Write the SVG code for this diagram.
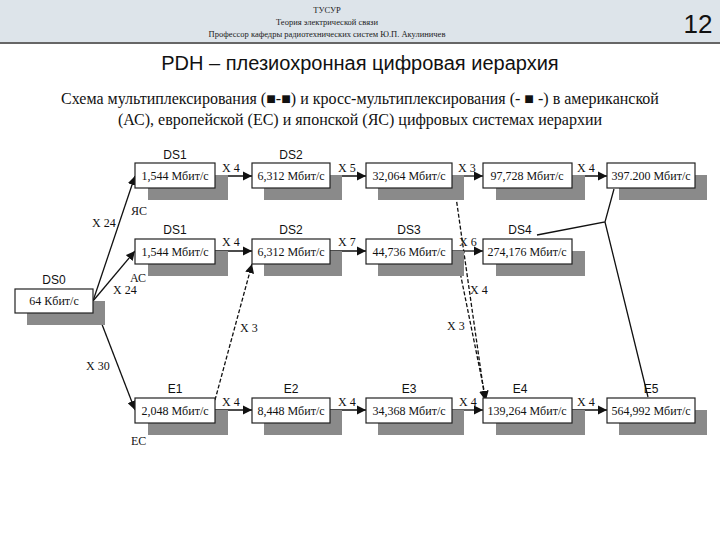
<svg xmlns="http://www.w3.org/2000/svg" width="720" height="540" viewBox="0 0 720 540">
<defs>
<marker id="ar" viewBox="0 0 10 10" refX="10" refY="5" markerWidth="7" markerHeight="7" orient="auto"><path d="M0,0L10,5L0,10z" fill="#111"/></marker>
<style>
.box{fill:#fff;stroke:#222;stroke-width:1.2}
.sh{fill:#8a8a8a}
.v{font-family:"Liberation Serif",serif;font-size:12px;fill:#111;text-anchor:middle}
.n{font-family:"Liberation Sans",sans-serif;font-size:12px;fill:#111;text-anchor:middle}
.x{font-family:"Liberation Serif",serif;font-size:12px;fill:#111}
.c{stroke:#111;stroke-width:1.3;fill:none}
.d{stroke:#111;stroke-width:1.3;fill:none;stroke-dasharray:4 2}
</style>
</defs>
<rect width="720" height="540" fill="#fff"/>
<rect width="720" height="42" fill="#dde4ea"/>
<line x1="0" y1="43" x2="720" y2="43" stroke="#333" stroke-width="1.5"/>
<g font-family="Liberation Serif,serif" font-size="8.5" text-anchor="middle" fill="#222">
<text x="327" y="13">ТУСУР</text>
<text x="327" y="25">Теория электрической связи</text>
<text x="327" y="37">Профессор кафедры радиотехнических систем Ю.П. Акулиничев</text>
</g>
<text x="698" y="33" font-family="Liberation Sans,sans-serif" font-size="26" text-anchor="middle" fill="#111">12</text>
<text x="360" y="70" font-family="Liberation Sans,sans-serif" font-size="20" text-anchor="middle" fill="#111">PDH – плезиохронная цифровая иерархия</text>
<text x="360" y="104" font-family="Liberation Serif,serif" font-size="16" text-anchor="middle" fill="#111">Схема мультиплексирования (■-■) и кросс-мультиплексирования (- ■ -) в американской</text>
<text x="360" y="125" font-family="Liberation Serif,serif" font-size="16" text-anchor="middle" fill="#111">(АС), европейской (ЕС) и японской (ЯС) цифровых системах иерархии</text>

<g id="connectors">
<path class="c" d="M93,301L135,176" marker-end="url(#ar)"/>
<path class="c" d="M93,301L135,251" marker-end="url(#ar)"/>
<path class="c" d="M93,301L135,410" marker-end="url(#ar)"/>
<path class="c" d="M215,176H252" marker-end="url(#ar)"/>
<path class="c" d="M330,176H366" marker-end="url(#ar)"/>
<path class="c" d="M452,176H483" marker-end="url(#ar)"/>
<path class="c" d="M572,176H607" marker-end="url(#ar)"/>
<path class="c" d="M215,251H252" marker-end="url(#ar)"/>
<path class="c" d="M330,251H366" marker-end="url(#ar)"/>
<path class="c" d="M452,251H483" marker-end="url(#ar)"/>
<path class="c" d="M215,410H252" marker-end="url(#ar)"/>
<path class="c" d="M330,410H366" marker-end="url(#ar)"/>
<path class="c" d="M452,410H483" marker-end="url(#ar)"/>
<path class="c" d="M572,410H607" marker-end="url(#ar)"/>
<path class="d" d="M215,400L252,264" marker-end="url(#ar)"/>
<path class="d" d="M455,190L485,400" marker-end="url(#ar)"/>
<path class="d" d="M458,262L486,400" marker-end="url(#ar)"/>
<path class="c" d="M537,235L605,222L614,189M605,222L648,397"/>
<g class="x">
<text x="92" y="227">X 24</text><text x="113" y="294">X 24</text><text x="86" y="370">X 30</text>
<text x="131" y="215">ЯС</text><text x="130" y="282">АС</text><text x="131" y="445">ЕС</text>
<text x="222" y="172">X 4</text><text x="338" y="172">X 5</text><text x="458" y="172">X 3</text><text x="577" y="172">X 4</text>
<text x="222" y="246">X 4</text><text x="338" y="246">X 7</text><text x="459" y="246">X 6</text>
<text x="222" y="406">X 4</text><text x="338" y="406">X 4</text><text x="459" y="406">X 4</text><text x="577" y="406">X 4</text>
<text x="240" y="332">X 3</text><text x="447" y="330">X 3</text><text x="470" y="294">X 4</text>
</g>
</g>

<g id="DS0"><rect class="sh" x="27" y="301" width="78" height="24"/><rect class="box" x="15" y="289" width="78" height="24"/><text class="n" x="54" y="284">DS0</text><text class="v" x="54" y="305">64 Кбит/с</text></g>

<g id="DS1a"><rect class="sh" x="148" y="175" width="80" height="25"/><rect class="box" x="135" y="163" width="80" height="25"/><text class="n" x="175" y="159">DS1</text><text class="v" x="175" y="180">1,544 Мбит/с</text></g>
<g id="DS2a"><rect class="sh" x="264" y="175" width="78" height="25"/><rect class="box" x="252" y="163" width="78" height="25"/><text class="n" x="291" y="159">DS2</text><text class="v" x="291" y="180">6,312 Мбит/с</text></g>
<g id="R32"><rect class="sh" x="378" y="175" width="86" height="25"/><rect class="box" x="366" y="163" width="86" height="25"/><text class="v" x="409" y="180">32,064 Мбит/с</text></g>
<g id="R97"><rect class="sh" x="496" y="175" width="89" height="25"/><rect class="box" x="483" y="163" width="89" height="25"/><text class="v" x="527" y="180">97,728 Мбит/с</text></g>
<g id="R397"><rect class="sh" x="619" y="175" width="88" height="25"/><rect class="box" x="607" y="163" width="88" height="25"/><text class="v" x="651" y="180">397.200 Мбит/с</text></g>

<g id="DS1b"><rect class="sh" x="148" y="251" width="80" height="25"/><rect class="box" x="135" y="239" width="80" height="25"/><text class="n" x="175" y="234">DS1</text><text class="v" x="175" y="256">1,544 Мбит/с</text></g>
<g id="DS2b"><rect class="sh" x="264" y="251" width="78" height="25"/><rect class="box" x="252" y="239" width="78" height="25"/><text class="n" x="291" y="234">DS2</text><text class="v" x="291" y="256">6,312 Мбит/с</text></g>
<g id="DS3"><rect class="sh" x="378" y="251" width="86" height="25"/><rect class="box" x="366" y="239" width="86" height="25"/><text class="n" x="409" y="234">DS3</text><text class="v" x="409" y="256">44,736 Мбит/с</text></g>
<g id="DS4"><rect class="sh" x="496" y="251" width="89" height="25"/><rect class="box" x="483" y="239" width="89" height="25"/><text class="n" x="520" y="234">DS4</text><text class="v" x="527" y="256">274,176 Мбит/с</text></g>

<g id="E1"><rect class="sh" x="148" y="410" width="80" height="25"/><rect class="box" x="135" y="398" width="80" height="25"/><text class="n" x="175" y="393">E1</text><text class="v" x="175" y="415">2,048 Мбит/с</text></g>
<g id="E2"><rect class="sh" x="264" y="410" width="78" height="25"/><rect class="box" x="252" y="398" width="78" height="25"/><text class="n" x="291" y="393">E2</text><text class="v" x="291" y="415">8,448 Мбит/с</text></g>
<g id="E3"><rect class="sh" x="378" y="410" width="86" height="25"/><rect class="box" x="366" y="398" width="86" height="25"/><text class="n" x="409" y="393">E3</text><text class="v" x="409" y="415">34,368 Мбит/с</text></g>
<g id="E4"><rect class="sh" x="496" y="410" width="89" height="25"/><rect class="box" x="483" y="398" width="89" height="25"/><text class="n" x="520" y="393">E4</text><text class="v" x="527" y="415">139,264 Мбит/с</text></g>
<g id="E5"><rect class="sh" x="619" y="410" width="88" height="25"/><rect class="box" x="607" y="398" width="88" height="25"/><text class="n" x="651" y="393">E5</text><text class="v" x="651" y="415">564,992 Мбит/с</text></g>
</svg>
